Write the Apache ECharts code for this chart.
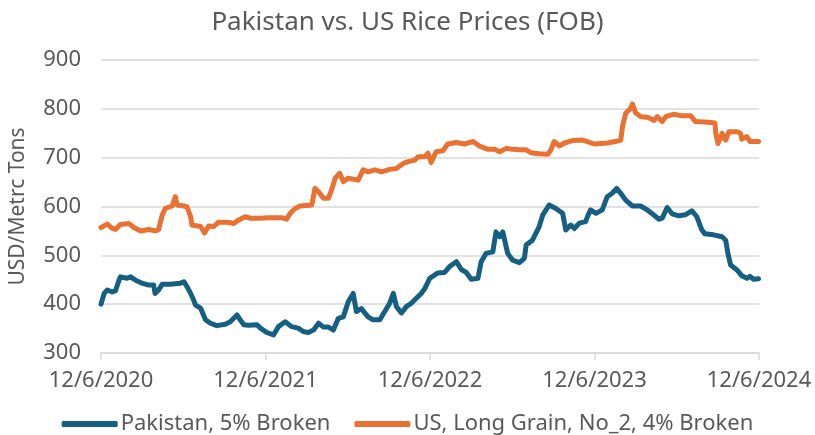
<!DOCTYPE html>
<html>
<head>
    <meta charset="utf-8">
    <title>Pakistan vs. US Rice Prices</title>
    <script src="https://cdn.jsdelivr.net/npm/echarts@6/dist/echarts.min.js"></script>
    <style>
        html, body { margin: 0; padding: 0; background: #fff; }
        #main { width: 815px; height: 435px; }
    </style>
</head>
<body>
<div id="main"></div>
<script type="text/javascript">
    // days since 12/6/2020 and prices (USD/ton)
    var pakDays = [0, 7, 14, 25, 32, 40, 43, 58, 66, 77, 91, 106, 117, 120, 128, 136, 154, 176, 184, 191,
        199, 206, 210, 221, 232, 243, 257, 276, 287, 302, 309, 317, 328, 346, 354, 368, 383, 394, 409, 423,
        438, 449, 460, 472, 483, 494, 505, 516, 527, 538, 549, 560, 567, 578, 593, 604, 619, 630, 641, 649,
        656, 667, 678, 689, 700, 711, 719, 730, 748, 763, 774, 789, 800, 811, 822, 837, 844, 855, 870, 877,
        885, 892, 903, 914, 929, 940, 944, 958, 973, 981, 995, 1010, 1025, 1032, 1043, 1051, 1062, 1076, 1080, 1087,
        1099, 1113, 1124, 1135, 1145, 1154, 1165, 1180, 1198, 1213, 1224, 1239, 1246, 1257, 1268, 1283, 1297, 1312, 1323, 1334,
        1341, 1360, 1379, 1387, 1392, 1398, 1412, 1423, 1434, 1441, 1449, 1460];
    var pakVals = [400, 422, 429, 425, 427, 449, 456, 453, 456, 449, 443, 439, 439, 422, 429, 441, 441, 443, 446, 436,
        422, 408, 398, 392, 368, 361, 356, 359, 364, 378, 368, 358, 357, 358, 351, 342, 337, 354, 364, 354,
        351, 344, 342, 347, 361, 353, 353, 347, 371, 374, 405, 422, 385, 391, 374, 368, 368, 385, 402, 422,
        395, 382, 395, 402, 412, 422, 432, 453, 464, 465, 477, 487, 471, 465, 451, 453, 487, 504, 507, 548,
        538, 548, 504, 490, 485, 494, 521, 531, 559, 583, 603, 596, 586, 552, 562, 555, 566, 569, 579, 593,
        586, 593, 620, 627, 637, 627, 613, 601, 601, 593, 585, 574, 576, 598, 585, 581, 583, 591, 579, 552,
        544, 542, 538, 531, 504, 480, 470, 458, 453, 457, 451, 452];

    var usDays = [0, 14, 25, 32, 43, 62, 73, 88, 106, 121, 128, 136, 143, 158, 165, 169, 184, 191, 199, 202,
        221, 230, 239, 250, 261, 287, 294, 305, 320, 331, 354, 372, 401, 412, 420, 431, 442, 468, 475, 483,
        494, 505, 512, 520, 530, 538, 549, 571, 582, 593, 608, 623, 641, 656, 671, 682, 697, 704, 719, 726,
        733, 744, 759, 770, 789, 807, 826, 840, 859, 874, 885, 900, 914, 929, 944, 955, 973, 992, 999, 1006,
        1018, 1029, 1047, 1069, 1080, 1095, 1124, 1147, 1154, 1158, 1165, 1176, 1180, 1187, 1198, 1213, 1228, 1235, 1246, 1254,
        1272, 1287, 1309, 1320, 1339, 1354, 1363, 1365, 1370, 1379, 1387, 1394, 1412, 1420, 1423, 1434, 1441, 1460];
    var usVals = [557, 564, 555, 553, 563, 565, 557, 550, 553, 550, 553, 583, 596, 601, 620, 603, 601, 599, 579, 562,
        559, 546, 560, 559, 568, 567, 565, 572, 579, 576, 576, 577, 577, 574, 586, 596, 601, 603, 637, 630,
        617, 617, 634, 658, 668, 651, 658, 654, 675, 671, 675, 671, 676, 678, 688, 692, 695, 702, 702, 709,
        690, 712, 714, 728, 731, 728, 733, 724, 717, 717, 712, 719, 717, 716, 716, 710, 708, 707, 716, 733,
        724, 730, 735, 736, 733, 728, 730, 734, 736, 764, 791, 801, 810, 792, 784, 783, 776, 784, 774, 784,
        789, 786, 786, 774, 773, 772, 771, 750, 729, 750, 736, 753, 753, 750, 738, 743, 733, 733];

    var tickLabels = ['12/6/2020', '12/6/2021', '12/6/2022', '12/6/2023', '12/6/2024'];
    var seriesNames = ['Pakistan, 5% Broken', 'US, Long Grain, No_2, 4% Broken'];

    function pairs(days, vals) {
        var out = [];
        for (var i = 0; i < days.length; i++) out.push([days[i], vals[i]]);
        return out;
    }

    var myChart = echarts.init(document.getElementById('main'));
    var font = 'Noto Sans';
    var grey = '#595959';

    var option = {
        animation: false,
        textStyle: { fontFamily: font },
        title: {
            text: 'Pakistan vs. US Rice Prices (FOB)',
            left: 'center',
            top: 5,
            textStyle: { fontSize: 26, fontWeight: 'normal', color: grey, fontFamily: font }
        },
        legend: {
            top: 408,
            left: 'center',
            itemWidth: 56,
            itemHeight: 6,
            itemGap: 24,
            icon: 'roundRect',
            textStyle: { fontSize: 22, color: grey, padding: [0, 0, 0, -2] },
            data: seriesNames
        },
        grid: { left: 101, right: 56, top: 60, bottom: 82 },
        xAxis: {
            type: 'value',
            min: 0,
            max: 1461,
            interval: 365.25,
            axisLine: { lineStyle: { color: '#d9d9d9', width: 1.5 } },
            axisTick: { show: true, length: 7, lineStyle: { color: '#d9d9d9', width: 1.5 } },
            splitLine: { show: false },
            axisLabel: {
                fontSize: 22,
                color: grey,
                margin: 17,
                formatter: function (v) { return tickLabels[Math.round(v / 365.25)]; }
            }
        },
        yAxis: {
            type: 'value',
            min: 300,
            max: 900,
            interval: 100,
            name: 'USD/Metrc Tons',
            nameLocation: 'middle',
            nameGap: 72,
            nameTextStyle: { fontSize: 21, color: grey },
            axisLine: { show: false },
            axisTick: { show: false },
            splitLine: { lineStyle: { color: '#d9d9d9', width: 1.5 } },
            axisLabel: { fontSize: 22, color: grey, margin: 20 }
        },
        series: [
            {
                name: seriesNames[0],
                type: 'line',
                showSymbol: false,
                data: pairs(pakDays, pakVals),
                itemStyle: { color: '#156082' },
                lineStyle: { color: '#156082', width: 5, join: 'round', cap: 'round' }
            },
            {
                name: seriesNames[1],
                type: 'line',
                showSymbol: false,
                data: pairs(usDays, usVals),
                itemStyle: { color: '#E97132' },
                lineStyle: { color: '#E97132', width: 5, join: 'round', cap: 'round' }
            }
        ]
    };

    myChart.setOption(option);
</script>
</body>
</html>
